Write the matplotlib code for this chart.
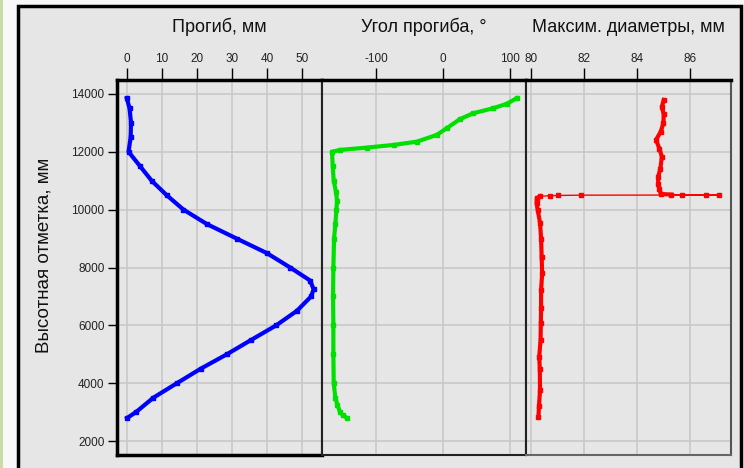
import matplotlib.pyplot as plt
from matplotlib.patches import Rectangle

# высоты и значения
defl_h = [2800, 3000, 3500, 4000, 4500, 5000, 5500, 6000, 6500, 7000, 7250, 7550,
          8000, 8500, 9000, 9500, 10000, 10500, 11000, 11500, 12000, 12500, 13000, 13500, 13850]
defl = [0.0, 2.5, 7.5, 14.2, 21.0, 28.5, 35.5, 42.6, 48.5, 52.6, 53.3, 52.3,
        46.6, 39.9, 31.3, 22.8, 16.1, 11.3, 7.0, 3.7, 0.4, 1.0, 1.1, 0.7, -0.1]

ang_h = [2800, 2900, 3000, 3250, 3500, 4000, 5000, 6000, 7000, 8000, 9000, 9500, 10000,
         10300, 10600, 11000, 11500, 12000, 12064, 12144, 12236, 12350, 12582, 12813,
         13125, 13330, 13505, 13654, 13850]
ang = [-144, -150, -154, -158, -161, -163.5, -164, -164, -164.5, -164, -163, -161, -159.5,
       -158.5, -160, -163.5, -165, -166, -153.7, -114, -74, -39, -9.5, 5.5,
       25, 45, 75, 95, 110]

diam_h = [2840, 3200, 3770, 4500, 4920, 5500, 6070, 6600, 7220, 7800, 8370, 9000, 9540,
          10000, 10230, 10400, 10460, 10480, 10490, 10500, 10505, 10510, 10515, 10520,
          10540, 10700, 10900, 11140, 11400, 11830, 12100, 12410, 12700, 13000, 13300,
          13550, 13790]
diam = [80.28, 80.3, 80.34, 80.33, 80.31, 80.36, 80.37, 80.38, 80.38, 80.42, 80.4, 80.38, 80.34,
        80.25, 80.21, 80.22, 80.35, 80.7, 81.0, 81.9, 86.6, 87.1, 85.7, 85.3,
        84.9, 84.85, 84.8, 84.8, 84.88, 84.94, 84.85, 84.72, 84.9, 85.0, 85.01,
        84.94, 85.01]

titles = ['Прогиб, мм', 'Угол прогиба, °', 'Максим. диаметры, мм']
yticks = [2000, 4000, 6000, 8000, 10000, 12000, 14000]

plt.rcParams['font.family'] = ['Liberation Sans', 'DejaVu Sans']
plt.rcParams['axes.unicode_minus'] = False

W, H = 744, 468
fig = plt.figure(figsize=(W / 100, H / 100), dpi=100, facecolor='#f8f8f8')

# рамка и полоска слева
fig.patches.append(Rectangle((0, 0), 3 / W, 1, transform=fig.transFigure,
                             facecolor='#c8dca6', edgecolor='none', zorder=-10))
fig.patches.append(Rectangle((18 / W, -0.02), (741 - 18) / W, 1.02 - 6 / H,
                             transform=fig.transFigure, facecolor='#e6e6e6',
                             edgecolor='black', linewidth=2.5, zorder=-10))

bounds = [117, 322, 526, 731]
top, bottom = 80, 455
axes = []
for i in range(3):
    ax = fig.add_axes([bounds[i] / W, (H - bottom) / H,
                       (bounds[i + 1] - bounds[i]) / W, (bottom - top) / H])
    ax.set_facecolor('#e6e6e6')
    ax.set_ylim(1520, 14480)
    ax.set_yticks(yticks)
    ax.grid(True, color='#c8c8c8', linewidth=1.2, zorder=0)
    ax.set_axisbelow(True)
    ax.xaxis.tick_top()
    ax.tick_params(axis='x', length=8.5, width=1, pad=2.5, labelsize=8.5,
                   labelcolor='#222222')
    ax.tick_params(axis='y', length=6.5, width=1, pad=2.5, labelsize=8.5,
                   labelcolor='#222222')
    for s in ax.spines.values():
        s.set_linewidth(1.5)
        s.set_color('#222222')
    ax.spines['top'].set_linewidth(2.5)
    ax.spines['top'].set_color('black')
    if i > 0:
        ax.tick_params(axis='y', left=False, labelleft=False)
    fig.text((bounds[i] + bounds[i + 1]) / 2 / W, 1 - 27 / H, titles[i],
             ha='center', va='center', fontsize=13, color='#111111')
    axes.append(ax)

ax1, ax2, ax3 = axes
ax1.spines['left'].set_linewidth(2.5)
ax1.spines['left'].set_color('black')
ax1.spines['bottom'].set_linewidth(2.5)
ax1.spines['bottom'].set_color('black')
ax3.spines['right'].set_color('#555555')
ax3.spines['bottom'].set_color('#666666')

ax1.set_xlim(-2.9, 55.7)
ax1.set_xticks([0, 10, 20, 30, 40, 50])
ax1.plot(defl, defl_h, color='#0000ff', linewidth=3, marker='s', markersize=3.5,
         zorder=3)

ax2.set_xlim(-181, 124)
ax2.set_xticks([-100, 0, 100])
ax2.plot(ang, ang_h, color='#00e000', linewidth=3, marker='s', markersize=3.5,
         zorder=3)

ax3.set_xlim(79.81, 87.55)
ax3.set_xticks([80, 82, 84, 86])
ax3.plot(diam, diam_h, color='#ff0000', linewidth=1, marker='s', markersize=3.5,
         zorder=3)
ax3.plot(diam[:17], diam_h[:17], color='#ff0000', linewidth=3, zorder=3)
ax3.plot(diam[23:], diam_h[23:], color='#ff0000', linewidth=3, zorder=3)

fig.text(44 / W, 1 - 255 / H, 'Высотная отметка, мм', rotation=90,
         ha='center', va='center', fontsize=13.5, color='#111111')

fig.savefig('out.png', dpi=100, facecolor=fig.get_facecolor())
